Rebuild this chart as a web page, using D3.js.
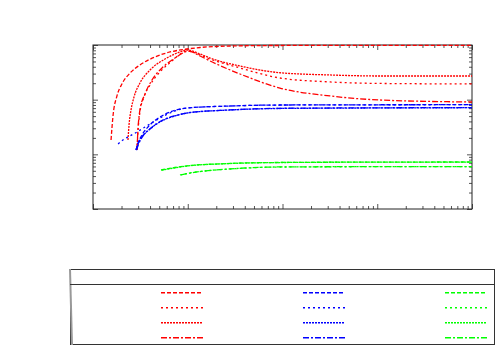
<!DOCTYPE html>
<html>
<head>
<meta charset="utf-8">
<script src="https://cdn.jsdelivr.net/npm/d3@7"></script>
<style>
  body { margin: 0; background: #fff; }
  svg { display: block; }
</style>
</head>
<body>
<div id="chart"></div>
<script>
var w = 500;
var h = 350;

// curves as [x, y] pairs (log-log axes)
var redDashed = [[0.155,0.0183],[0.163,0.0524],[0.179,0.117],[0.202,0.194],[0.246,0.307],[0.313,0.431],[0.451,0.603],[0.650,0.745],[0.982,0.845],[1.35,0.90],[2.79,0.959],[9.4,0.98],[1000,0.985]];
var redDotted = [[0.291,0.0120],[0.299,0.0279],[0.313,0.0595],[0.345,0.112],[0.400,0.185],[0.509,0.321],[0.682,0.510],[0.869,0.714],[0.982,0.777],[1.35,0.656],[1.72,0.554],[3.56,0.380],[9.4,0.249],[31.7,0.211],[107,0.198],[1000,0.194]];
var redFine = [[0.234,0.0183],[0.240,0.0344],[0.252,0.0648],[0.271,0.112],[0.313,0.202],[0.400,0.349],[0.575,0.554],[0.828,0.745],[0.982,0.810],[1.35,0.685],[1.72,0.578],[3.56,0.413],[9.4,0.311],[31.7,0.283],[107,0.271],[1000,0.271]];
var redDashDot = [[0.291,0.0120],[0.299,0.0303],[0.313,0.0648],[0.354,0.127],[0.419,0.229],[0.535,0.380],[0.733,0.578],[0.935,0.745],[1.01,0.777],[1.35,0.629],[1.72,0.510],[3.56,0.295],[9.4,0.163],[31.7,0.117],[107,0.0986],[1000,0.0906]];

var blueDashed = [[0.284,0.0120],[0.299,0.0161],[0.329,0.0226],[0.380,0.0316],[0.474,0.0443],[0.650,0.0595],[0.982,0.0704],[2.79,0.0766],[9.4,0.0798],[1000,0.081]];
var blueDotted = [[0.184,0.0155],[0.207,0.0183],[0.246,0.0217],[0.291,0.0256],[0.354,0.0316],[0.451,0.0407],[0.650,0.0570],[0.982,0.0704],[2.79,0.0766],[9.4,0.0798],[107,0.0805],[1000,0.081]];
var blueFine = [[0.284,0.0120],[0.299,0.0155],[0.329,0.0208],[0.400,0.0290],[0.509,0.0391],[0.733,0.0503],[0.982,0.0570],[2.79,0.0648],[9.4,0.0690],[1000,0.0713]];
var blueDashDot = [[0.288,0.0120],[0.306,0.0161],[0.337,0.0217],[0.409,0.0303],[0.522,0.0407],[0.752,0.0513],[1.06,0.0582],[2.79,0.0648],[9.4,0.0695],[1000,0.0716]];

var greenDashed = [[0.522,0.00517],[0.733,0.00574],[1.06,0.00625],[2.19,0.00671],[9.4,0.00710],[107,0.00721],[1000,0.00724]];
var greenDotted = [[0.828,0.00419],[1.06,0.00456],[1.52,0.00496],[2.79,0.00539],[9.4,0.00586],[107,0.00594],[1000,0.00594]];
var greenFine = [[0.530,0.00512],[0.75,0.00570],[1.08,0.00622],[2.2,0.00668],[9.4,0.00708],[107,0.00720],[1000,0.00723]];
var greenDashDot = [[0.85,0.00421],[1.08,0.00458],[1.55,0.00498],[2.8,0.00541],[9.4,0.00588],[107,0.00595],[1000,0.00595]];

var colors = ["#ff0000", "#0000ff", "#00ff00"];
var dashes = [[4,2], [2,3], [2,1], [6,2,2,2]];
var groups = [
  [redDashed, redDotted, redFine, redDashDot],
  [blueDashed, blueDotted, blueFine, blueDashDot],
  [greenDashed, greenDotted, greenFine, greenDashDot]
];

var xDomain = [0.1, 1000];
var yDomain = [0.001, 1];

var svg = d3.select("#chart").append("svg")
  .attr("width", w).attr("height", h);

var x = d3.scaleLog().domain(xDomain).range([93, 472]);
var y = d3.scaleLog().domain(yDomain).range([209, 45]);

function logTicks(dom, major) {
  var out = [];
  for (var e = Math.round(Math.log10(dom[0])); e < Math.round(Math.log10(dom[1])); e++) {
    var b = Math.pow(10, e);
    if (major) out.push(b);
    else for (var k = 2; k < 10; k++) out.push(k * b);
  }
  if (major) out.push(dom[1]);
  return out;
}

function drawAxis(axisFn, scale, dom, tr) {
  [[true, 5], [false, 3]].forEach(function(m) {
    var g = svg.append("g")
      .attr("transform", tr)
      .call(axisFn(scale).tickValues(logTicks(dom, m[0])).tickSize(-m[1]).tickFormat(""));
    g.select(".domain").remove();
    g.selectAll("line").attr("stroke", "#555").attr("stroke-width", 1);
  });
}

drawAxis(d3.axisBottom, x, xDomain, "translate(0,209)");
drawAxis(d3.axisTop, x, xDomain, "translate(0,45)");
drawAxis(d3.axisLeft, y, yDomain, "translate(93,0)");
drawAxis(d3.axisRight, y, yDomain, "translate(472,0)");

svg.append("rect")
  .attr("x", 93).attr("y", 45)
  .attr("width", 379).attr("height", 164)
  .attr("fill", "none").attr("stroke", "#222").attr("stroke-width", 1);

var line = d3.line()
  .curve(d3.curveMonotoneX)
  .x(function(d) { return x(d[0]); })
  .y(function(d) { return y(d[1]); });

var plot = svg.append("g");
groups.forEach(function(series, i) {
  series.forEach(function(s, j) {
    plot.append("path")
      .datum(s)
      .attr("d", line)
      .attr("fill", "none")
      .attr("stroke", colors[i])
      .attr("stroke-width", 1.3)
      .attr("stroke-dasharray", dashes[j].join(","));
  });
});

// legend box
var legend = svg.append("g");
legend.append("rect")
  .attr("x", 70.5).attr("y", 269.5)
  .attr("width", 424).attr("height", 75)
  .attr("fill", "none").attr("stroke", "#333").attr("stroke-width", 1);
legend.append("line")
  .attr("x1", 70).attr("x2", 72).attr("y1", 269).attr("y2", 345)
  .attr("stroke", "#999").attr("stroke-width", 2);
legend.append("line")
  .attr("x1", 70).attr("x2", 495).attr("y1", 284.5).attr("y2", 284.5)
  .attr("stroke", "#333").attr("stroke-width", 1);

// legend samples drawn as small rects, one per dash
var colX = [161, 303, 445];
var rowY = [292, 307, 322, 337];
var sampleLen = 42;
colors.forEach(function(c, i) {
  dashes.forEach(function(da, j) {
    var segs = [];
    var pos = 0, k = 0;
    while (pos < sampleLen) {
      var len = da[k % da.length];
      if (k % 2 === 0) segs.push([pos, Math.min(len, sampleLen - pos)]);
      pos += len;
      k++;
    }
    legend.selectAll(null)
      .data(segs)
      .join("rect")
      .attr("x", function(d) { return colX[i] + d[0]; })
      .attr("y", rowY[j])
      .attr("width", function(d) { return d[1]; })
      .attr("height", 1.5)
      .attr("fill", c);
  });
});
</script>
</body>
</html>
